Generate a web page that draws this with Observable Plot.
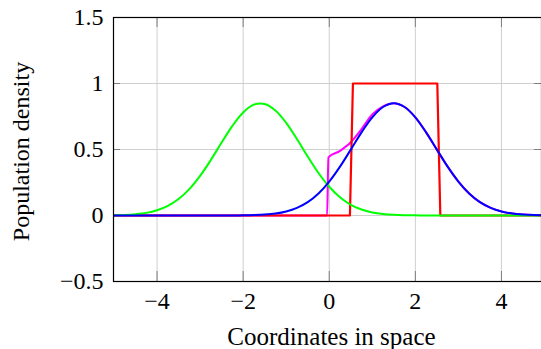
<!DOCTYPE html>
<html>
<head>
<meta charset="utf-8">
<script src="https://cdn.jsdelivr.net/npm/d3@7"></script>
<script src="https://cdn.jsdelivr.net/npm/@observablehq/plot@0.6"></script>
<style>
  html, body { margin: 0; padding: 0; background: #fff; }
  #chart svg { display: block; }
</style>
</head>
<body>
<div id="chart"></div>
<script>
// ---- data ----
const xLabel = "Coordinates in space";
const yLabel = "Population density";
const xTicks = [-4, -2, 0, 2, 4];
const xTickLabels = ["−4", "−2", "0", "2", "4"];
const yTicks = [-0.5, 0, 0.5, 1, 1.5];
const yTickLabels = ["−0.5", "0", "0.5", "1", "1.5"];

const gridX = [-5, -4.75, -4.5, -4.25, -4, -3.75, -3.5, -3.25, -3, -2.75, -2.5, -2.25, -2, -1.75, -1.5, -1.25, -1, -0.75, -0.5, -0.25,
  0, 0.25, 0.5, 0.75, 1, 1.25, 1.5, 1.75, 2, 2.25, 2.5, 2.75, 3, 3.25, 3.5, 3.75, 4, 4.25, 4.5, 4.75, 5];

const greenY = [0.002, 0.004, 0.010, 0.020, 0.040, 0.073, 0.125, 0.200, 0.300, 0.421, 0.553, 0.679, 0.781, 0.840, 0.845, 0.796, 0.702, 0.579, 0.447, 0.322,
  0.218, 0.138, 0.081, 0.045, 0.023, 0.011, 0.005, 0.002, 0.001, 0, 0, 0, 0, 0, 0, 0, 0, 0, 0, 0, 0];

const blueY = [0, 0, 0, 0, 0, 0, 0, 0, 0, 0, 0, 0, 0.001, 0.003, 0.007, 0.015, 0.031, 0.058, 0.101, 0.167,
  0.257, 0.370, 0.499, 0.630, 0.744, 0.822, 0.850, 0.822, 0.744, 0.630, 0.499, 0.370, 0.257, 0.167, 0.101, 0.058, 0.031, 0.015, 0.007, 0.003, 0.001];

const magentaX = [-5, -0.05, -0.02, 0.25, 0.5, 0.75, 1, 1.25, 1.5, 1.75, 2, 2.25, 2.5, 2.75, 3, 3.25, 3.5, 3.75, 4, 4.25, 4.5, 4.75, 5];
const magentaY = [0, 0, 0.44, 0.49, 0.555, 0.655, 0.765, 0.826, 0.850, 0.822, 0.744, 0.630, 0.499, 0.370, 0.257, 0.167, 0.101, 0.058, 0.031, 0.015, 0.007, 0.003, 0.001];

const redX = [-5, 0.48, 0.55, 2.51, 2.58, 5];
const redY = [0, 0, 1, 1, 0, 0];

// ---- tables for the library ----
const green = gridX.map((x, i) => ({x, y: greenY[i]}));
const blue = gridX.map((x, i) => ({x, y: blueY[i]}));
const magenta = magentaX.map((x, i) => ({x, y: magentaY[i]}));
const red = redX.map((x, i) => ({x, y: redY[i]}));

const W = 541, H = 349;
const mL = 113, mT = 17, mB = 68, xR = 544;
const FONT = "'Liberation Serif', 'DejaVu Serif', serif";
const FS = 24;

const chart = Plot.plot({
  width: W,
  height: H,
  marginLeft: mL,
  marginTop: mT,
  marginBottom: mB,
  marginRight: 0,
  x: {domain: [-5, 5], range: [mL + 0.5, xR]},
  y: {domain: [-0.5, 1.5]},
  marks: [
    Plot.gridX(xTicks, {stroke: "#cfcfcf", strokeOpacity: 1, strokeWidth: 1}),
    Plot.gridY(yTicks.filter(v => v > -0.5 && v < 1.5), {stroke: "#cfcfcf", strokeOpacity: 1, strokeWidth: 1}),
    // inward tick marks on all four sides
    Plot.tickX(xTicks, {x: d => d, insetTop: (H - mT - mB) - 10, stroke: "#7f7f7f"}),
    Plot.tickX(xTicks, {x: d => d, insetBottom: (H - mT - mB) - 10, stroke: "#7f7f7f"}),
    Plot.tickY(yTicks, {y: d => d, insetRight: (xR - mL) - 10, stroke: "#7f7f7f"}),
    Plot.tickY(yTicks, {y: d => d, insetLeft: (xR - mL) - 10, stroke: "#7f7f7f"}),
    Plot.axisX(xTicks, {tickSize: 0, tickPadding: 10, tickFormat: (d, i) => xTickLabels[i], label: null, fill: "#000", fontFamily: FONT, fontSize: FS}),
    Plot.axisY(yTicks, {tickSize: 0, tickPadding: 10, tickFormat: (d, i) => yTickLabels[i], label: null, fill: "#000", fontFamily: FONT, fontSize: FS}),
    Plot.line(magenta, {x: "x", y: "y", stroke: "#ff00ff", strokeWidth: 2, curve: "monotone-x"}),
    Plot.line(red, {x: "x", y: "y", stroke: "#ff0000", strokeWidth: 2.2, curve: "linear"}),
    Plot.line(green, {x: "x", y: "y", stroke: "#00ff00", strokeWidth: 2, curve: "catmull-rom"}),
    Plot.line(blue, {x: "x", y: "y", stroke: "#0000ff", strokeWidth: 2, curve: "catmull-rom"}),
    Plot.frame({stroke: "#000", strokeWidth: 1.2}),
    Plot.text([xLabel], {frameAnchor: "bottom", textAnchor: "middle", lineAnchor: "middle", dx: 4, dy: 55, text: d => d, fill: "#000", fontFamily: FONT, fontSize: 25}),
    Plot.text([yLabel], {frameAnchor: "left", textAnchor: "middle", lineAnchor: "middle", dx: -92.5, dy: 2, rotate: -90, text: d => d, fill: "#000", fontFamily: FONT, fontSize: FS})
  ]
});
document.getElementById("chart").appendChild(chart);
</script>
</body>
</html>
